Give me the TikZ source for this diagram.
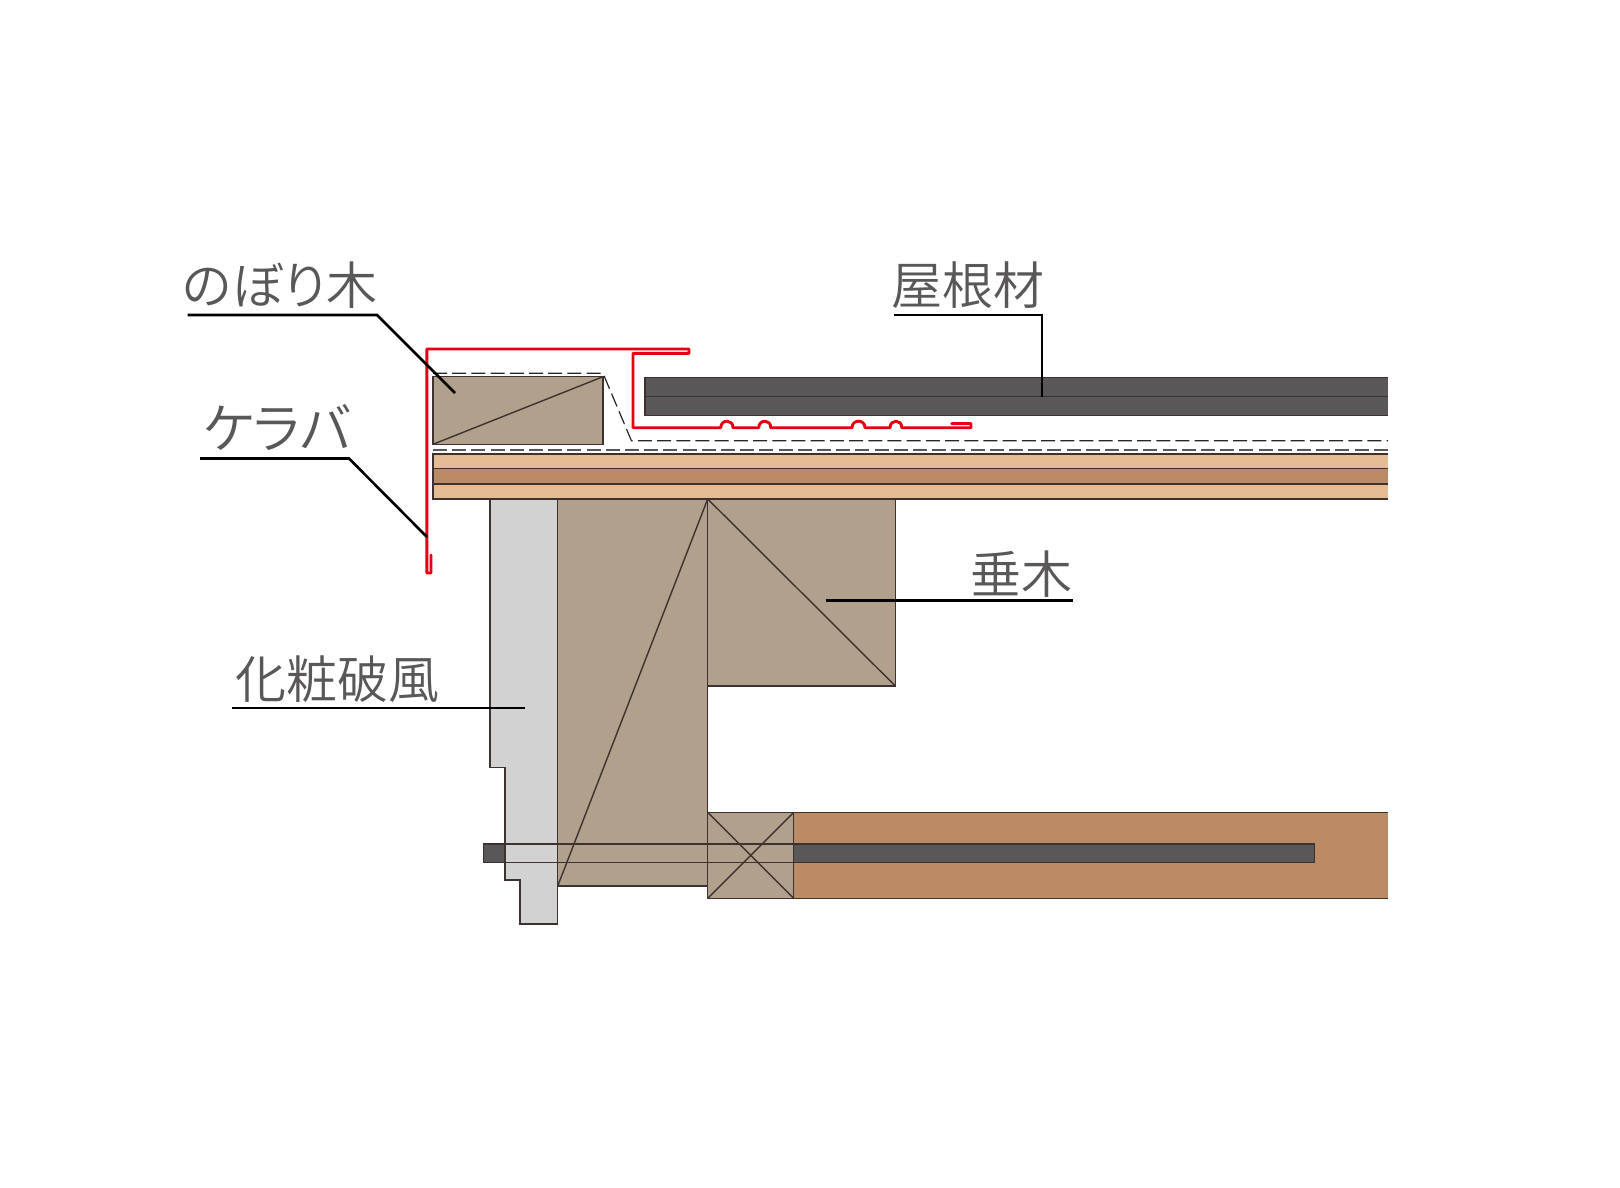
\documentclass[tikz,border=0pt]{standalone}
\usepackage{fontspec}
\newfontfamily\jpfont[RawFeature=+palt]{Noto Sans CJK JP DemiLight}
\definecolor{woodc}{HTML}{B1A08C}
\definecolor{boardc}{HTML}{E5BB94}
\definecolor{plyc}{HTML}{BB8B66}
\definecolor{slatec}{HTML}{595757}
\definecolor{trimc}{HTML}{D2D2D2}
\definecolor{linec}{HTML}{3E3230}
\definecolor{redc}{HTML}{E60012}
\tikzset{
    part/.style={draw=linec, line width=0.7pt, line join=miter},
    flash/.style={draw=redc, line width=1.45pt, line join=round, line cap=round},
    hidden/.style={draw=black!85, line width=0.6pt, dash pattern=on 7pt off 2.6pt},
    leader/.style={draw=black, line width=1.3pt, line join=miter},
    tag/.style={text=slatec, font=\jpfont\fontsize{25.5pt}{26pt}\selectfont, inner sep=0pt}
}
\begin{document}
\begin{tikzpicture}[x=0.5pt, y=-0.5pt]
            \useasboundingbox (0, 0) rectangle (1620, 1187);
            % roof layers
            \fill[boardc] (433, 454) rectangle (1388, 499);
            \fill[plyc] (433, 468.7) rectangle (1388, 484);
            \draw[part] (1388, 454) -- (433, 454) -- (433, 499) -- (1388, 499);
            \draw[part] (433, 468.7) -- (1388, 468.7);
            \draw[part] (433, 484) -- (1388, 484);
            \fill[slatec] (645, 377.3) rectangle (1388, 415.7);
            \draw[part] (1388, 377.3) -- (645, 377.3) -- (645, 415.7) -- (1388, 415.7);
            \draw[part] (645, 396.3) -- (1388, 396.3);
            % ceiling and its strip
            \fill[plyc] (793.7, 812.3) rectangle (1388, 898.3);
            \draw[part] (1388, 812.3) -- (793.7, 812.3) -- (793.7, 898.3) -- (1388, 898.3);
            \draw[part, fill=slatec] (483.7, 844) rectangle (1314.6, 862.7);
            % timbers
            \draw[part, fill=trimc] (490, 499) -- (557.7, 499) -- (557.7, 924) -- (520, 924) -- (520, 880)
                -- (505, 880) -- (505, 767.3) -- (490, 767.3) -- cycle;
            \draw[part, fill=woodc] (557.7, 499) rectangle (707.7, 886);
            \draw[part] (557.7, 886) -- (707.7, 499);
            \draw[part, fill=woodc] (707.7, 499) rectangle (895.3, 686);
            \draw[part] (707.7, 499) -- (895.3, 686);
            \draw[part, fill=woodc] (707.7, 812.3) rectangle (793.7, 898.3);
            \draw[part] (707.7, 812.3) -- (793.7, 898.3);
            \draw[part] (707.7, 898.3) -- (793.7, 812.3);
            \draw[part] (505, 844) -- (793.7, 844);
            \draw[part] (505, 862.7) -- (793.7, 862.7);
            \draw[part, fill=woodc] (433, 376.7) rectangle (603, 444.3);
            \draw[part] (433, 444.3) -- (603, 376.7);
            % underlay
            \draw[hidden] (433, 373.3) -- (603, 373.3) -- (631.4, 440.7) -- (1388, 440.7);
            \draw[hidden, draw=black!65] (433, 450) -- (1388, 450);
            % flashing
            \draw[flash] (431, 555) -- (431, 573) -- (426.8, 573) -- (426.8, 349) -- (689, 349)
                -- (689, 353.4) -- (633, 353.4) -- (633, 427.7) -- (720.7, 427.7)
                .. controls (721, 419) and (733, 419) .. (733, 427.7) -- (758.7, 427.7)
                .. controls (759, 419) and (771, 419) .. (770.7, 427.7) -- (852, 427.7)
                .. controls (852, 419) and (865, 419) .. (865, 427.7) -- (890, 427.7)
                .. controls (890, 419) and (902, 419) .. (901.7, 427.7) -- (971, 427.7)
                -- (971, 423.6) -- (951.7, 423.6);
            % labels
            \node[tag] (nobori) at (280, 285) {のぼり木};
            \node[tag, font=\jpfont\fontsize{27pt}{28pt}\selectfont] (keraba) at (277, 428) {ケラバ};
            \node[tag] (yane) at (968, 285) {屋根材};
            \node[tag] (taruki) at (1021, 574) {垂木};
            \node[tag] (hafu) at (337, 679) {化粧破風};
            \coordinate (noboriend) at (455, 393);
            \coordinate (kerabaend) at (427, 537);
            \coordinate (yaneend) at (1041.8, 397);
            \coordinate (tarukiend) at (825.8, 600.5);
            \coordinate (hafuend) at (525, 708);
            \draw[leader] (187.5, 315) -- (377, 315) -- (noboriend);
            \draw[leader] (200, 458.5) -- (349, 458.5) -- (kerabaend);
            \draw[leader] (894, 315) -- (1041.8, 315) -- (yaneend);
            \draw[leader] (1072.8, 600.5) -- (tarukiend);
            \draw[leader] (231.5, 708) -- (hafuend);
        \end{tikzpicture}
\end{document}
